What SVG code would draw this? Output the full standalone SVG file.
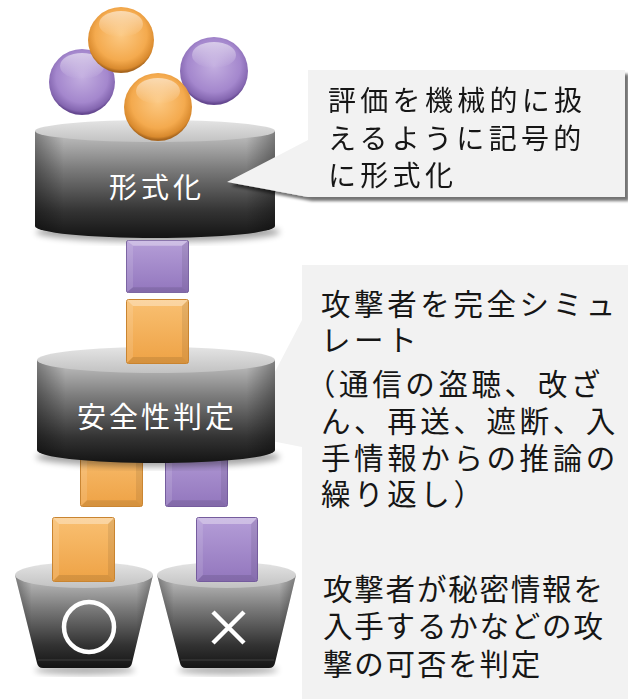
<svg xmlns="http://www.w3.org/2000/svg" width="628" height="699" viewBox="0 0 628 699">
  <defs>
    <style>
      .lbl { font-family: "Noto Sans CJK JP", "Noto Sans", sans-serif; fill: #ffffff; }
      .note { font-family: "Noto Sans CJK JP", "Noto Sans", sans-serif; fill: #161616; }
      .box { fill: #f2f2f2; }
      .mark { fill: none; stroke: #ffffff; stroke-width: 4.5; }
    </style>
    <!-- cylinder / bucket shading -->
    <linearGradient id="bodyGrad" x1="0" y1="0" x2="0" y2="1">
      <stop offset="0" stop-color="#c4c4c4"/>
      <stop offset="0.35" stop-color="#7c7c7c"/>
      <stop offset="0.75" stop-color="#333333"/>
      <stop offset="1" stop-color="#141414"/>
    </linearGradient>
    <linearGradient id="sideGrad" x1="0" y1="0" x2="1" y2="0">
      <stop offset="0" stop-color="#000" stop-opacity="0.35"/>
      <stop offset="0.12" stop-color="#000" stop-opacity="0"/>
      <stop offset="0.88" stop-color="#000" stop-opacity="0"/>
      <stop offset="1" stop-color="#000" stop-opacity="0.35"/>
    </linearGradient>
    <linearGradient id="topGrad" x1="0" y1="0" x2="0" y2="1">
      <stop offset="0" stop-color="#e4e4e4"/>
      <stop offset="1" stop-color="#c2c2c2"/>
    </linearGradient>
    <!-- ball fills -->
    <radialGradient id="ballO" cx="0.5" cy="0.42" r="0.56">
      <stop offset="0" stop-color="#fcc983"/>
      <stop offset="0.7" stop-color="#f4aa4e"/>
      <stop offset="0.93" stop-color="#d98a2e"/>
      <stop offset="1" stop-color="#a8661e"/>
    </radialGradient>
    <radialGradient id="ballP" cx="0.5" cy="0.42" r="0.56">
      <stop offset="0" stop-color="#c3aee0"/>
      <stop offset="0.7" stop-color="#a487cd"/>
      <stop offset="0.93" stop-color="#8466b0"/>
      <stop offset="1" stop-color="#654890"/>
    </radialGradient>
    <linearGradient id="gloss" x1="0" y1="0" x2="0" y2="1">
      <stop offset="0" stop-color="#fff" stop-opacity="0.55"/>
      <stop offset="1" stop-color="#fff" stop-opacity="0"/>
    </linearGradient>
    <!-- block fills -->
    <linearGradient id="sqOFill" x1="0" y1="0" x2="0" y2="1">
      <stop offset="0" stop-color="#f9c072"/>
      <stop offset="1" stop-color="#eea245"/>
    </linearGradient>
    <linearGradient id="sqPFill" x1="0" y1="0" x2="0" y2="1">
      <stop offset="0" stop-color="#b59ed8"/>
      <stop offset="1" stop-color="#9276bd"/>
    </linearGradient>
    <symbol id="sqO" viewBox="0 0 63 65" preserveAspectRatio="none">
      <rect x="0.5" y="0.5" width="62" height="64" rx="2" fill="url(#sqOFill)" stroke="#c98430"/>
      <path d="M1,1 L62,1 L56,7 L7,7 Z" fill="#fff" opacity="0.35"/>
      <path d="M1,1 L7,7 L7,58 L1,64 Z" fill="#fff" opacity="0.12"/>
      <path d="M62,1 L56,7 L56,58 L62,64 Z" fill="#000" opacity="0.08"/>
      <path d="M1,64 L7,58 L56,58 L62,64 Z" fill="#000" opacity="0.1"/>
    </symbol>
    <symbol id="sqP" viewBox="0 0 63 65" preserveAspectRatio="none">
      <rect x="0.5" y="0.5" width="62" height="64" rx="2" fill="url(#sqPFill)" stroke="#735a9c"/>
      <path d="M1,1 L62,1 L56,7 L7,7 Z" fill="#fff" opacity="0.35"/>
      <path d="M1,1 L7,7 L7,58 L1,64 Z" fill="#fff" opacity="0.12"/>
      <path d="M62,1 L56,7 L56,58 L62,64 Z" fill="#000" opacity="0.08"/>
      <path d="M1,64 L7,58 L56,58 L62,64 Z" fill="#000" opacity="0.1"/>
    </symbol>
    <filter id="soft" x="-20%" y="-20%" width="140%" height="140%">
      <feGaussianBlur stdDeviation="3"/>
    </filter>
    <filter id="drop" x="-10%" y="-10%" width="125%" height="130%">
      <feGaussianBlur in="SourceAlpha" stdDeviation="1.5"/>
      <feOffset dx="4" dy="4" result="b"/>
      <feComponentTransfer in="b" result="s">
        <feFuncA type="linear" slope="0.55"/>
      </feComponentTransfer>
      <feMerge>
        <feMergeNode in="s"/>
        <feMergeNode in="SourceGraphic"/>
      </feMerge>
    </filter>
  </defs>

  <rect width="628" height="699" fill="#ffffff"/>

  <!-- callout: safety check / judgement panel -->
  <g id="note-check">
    <rect class="box" x="302" y="265" width="326" height="434"/>
    <path class="box" d="M242,435 L302,320 L302,447 Z"/>
    <text class="note" font-size="29.5" letter-spacing="3.6">
      <tspan x="321" y="315">攻撃者を完全シミュ</tspan>
      <tspan x="321" y="351">レート</tspan>
    </text>
    <text class="note" font-size="29.5" letter-spacing="3.6">
      <tspan x="306" y="395">（通信の盗聴、改ざ</tspan>
      <tspan x="321" y="432">ん、再送、遮断、入</tspan>
      <tspan x="321" y="469">手情報からの推論の</tspan>
      <tspan x="321" y="505">繰り返し）</tspan>
    </text>
    <text class="note" font-size="29.5" letter-spacing="1.8">
      <tspan x="323" y="600">攻撃者が秘密情報を</tspan>
      <tspan x="323" y="637">入手するかなどの攻</tspan>
      <tspan x="323" y="675">撃の可否を判定</tspan>
    </text>
  </g>

  <!-- blocks leaving the checker (drawn behind it) -->
  <g id="block-out-o"><use href="#sqO" x="80" y="445" width="63" height="62"/></g>
  <g id="block-out-p"><use href="#sqP" x="165" y="445" width="63" height="62"/></g>

  <!-- formalisation stage -->
  <g id="stage-formalize">
    <ellipse cx="158" cy="232" rx="122" ry="10" fill="#000" opacity="0.35" filter="url(#soft)"/>
    <path d="M35,131 L35,226 A120,12 0 0 0 275,226 L275,131 Z" fill="url(#bodyGrad)"/>
    <path d="M35,131 L35,226 A120,12 0 0 0 275,226 L275,131 Z" fill="url(#sideGrad)"/>
    <ellipse cx="155" cy="131" rx="120" ry="11" fill="url(#topGrad)"/>
    <text class="lbl" x="157" y="198" font-size="28" letter-spacing="4" text-anchor="middle">形式化</text>
  </g>

  <!-- input tokens -->
  <g id="tokens">
    <g id="ball-p1"><circle cx="82" cy="82" r="33" fill="url(#ballP)"/><ellipse cx="82" cy="66" rx="22" ry="13" fill="url(#gloss)"/></g>
    <g id="ball-o1"><circle cx="121" cy="40" r="33" fill="url(#ballO)"/><ellipse cx="121" cy="24" rx="22" ry="13" fill="url(#gloss)"/></g>
    <g id="ball-p2"><circle cx="214" cy="71" r="34" fill="url(#ballP)"/><ellipse cx="214" cy="55" rx="22" ry="13" fill="url(#gloss)"/></g>
    <g id="ball-o2"><circle cx="158" cy="107" r="34" fill="url(#ballO)"/><ellipse cx="158" cy="91" rx="22" ry="13" fill="url(#gloss)"/></g>
  </g>

  <!-- callout: formalisation note -->
  <g id="note-formalize" filter="url(#drop)">
    <path class="box" d="M308,70 L625,70 L625,197 L308,197 L227,182 L308,140 Z"/>
    <text class="note" font-size="28" letter-spacing="4.3">
      <tspan x="328" y="111">評価を機械的に扱</tspan>
      <tspan x="328" y="149">えるように記号的</tspan>
      <tspan x="328" y="186">に形式化</tspan>
    </text>
  </g>

  <!-- blocks between stages -->
  <g id="block-mid-p"><use href="#sqP" x="126" y="240" width="63" height="53"/></g>

  <!-- safety check stage -->
  <g id="stage-check">
    <ellipse cx="158" cy="457" rx="122" ry="10" fill="#000" opacity="0.35" filter="url(#soft)"/>
    <path d="M37,360 L37,450 A119,13 0 0 0 275,450 L275,360 Z" fill="url(#bodyGrad)"/>
    <path d="M37,360 L37,450 A119,13 0 0 0 275,450 L275,360 Z" fill="url(#sideGrad)"/>
    <ellipse cx="156" cy="360" rx="119" ry="13" fill="url(#topGrad)"/>
    <text class="lbl" x="157" y="428" font-size="29" letter-spacing="3" text-anchor="middle">安全性判定</text>
  </g>
  <g id="block-mid-o"><use href="#sqO" x="126" y="299" width="63" height="65"/></g>

  <!-- result buckets -->
  <g id="bucket-ok">
    <ellipse cx="85" cy="670" rx="50" ry="5" fill="#000" opacity="0.3" filter="url(#soft)"/>
    <path d="M15,575 L37,663 Q38,668 43,668 L126,668 Q131,668 132,663 L153,575 Z" fill="url(#bodyGrad)"/>
    <path d="M15,575 L37,663 Q38,668 43,668 L126,668 Q131,668 132,663 L153,575 Z" fill="url(#sideGrad)"/>
    <path d="M38,660 L131,660" stroke="#555" stroke-width="1" opacity="0.6"/>
    <ellipse cx="84" cy="575" rx="69" ry="13" fill="url(#topGrad)"/>
    <circle class="mark" cx="89" cy="627" r="25"/>
  </g>
  <g id="bucket-ng">
    <ellipse cx="228" cy="670" rx="50" ry="5" fill="#000" opacity="0.3" filter="url(#soft)"/>
    <path d="M157,575 L180,663 Q181,668 186,668 L269,668 Q274,668 275,663 L296,575 Z" fill="url(#bodyGrad)"/>
    <path d="M157,575 L180,663 Q181,668 186,668 L269,668 Q274,668 275,663 L296,575 Z" fill="url(#sideGrad)"/>
    <path d="M181,660 L274,660" stroke="#555" stroke-width="1" opacity="0.6"/>
    <ellipse cx="226.5" cy="575" rx="69.5" ry="13" fill="url(#topGrad)"/>
    <path class="mark" d="M213,612 L244,643 M244,612 L213,643"/>
  </g>

  <!-- blocks dropping into buckets -->
  <g id="block-ok"><use href="#sqO" x="52" y="517" width="63" height="65"/></g>
  <g id="block-ng"><use href="#sqP" x="196" y="517" width="62" height="65"/></g>
</svg>
